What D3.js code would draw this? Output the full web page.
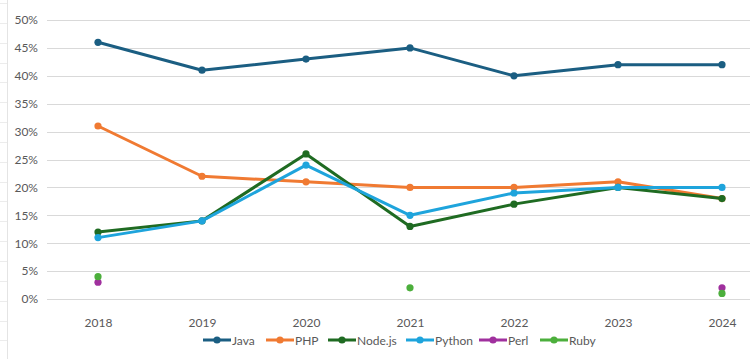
<!DOCTYPE html>
<html><head><meta charset="utf-8">
<script src="https://cdn.jsdelivr.net/npm/d3@7"></script>
<style>body{margin:0;background:#fff}svg{display:block}</style>
</head><body><svg id="c" width="750" height="359"></svg>
<script>
const years = ["2018","2019","2020","2021","2022","2023","2024"];
const seriesNames = ["Java","PHP","Node.js","Python","Perl","Ruby"];
const java   = [46,41,43,45,40,42,42];
const php    = [31,22,21,20,20,21,18];
const nodejs = [12,14,26,13,17,20,18];
const python = [11,14,24,15,19,20,20];
const perl   = [3,null,null,null,null,null,2];
const ruby   = [4,null,null,2,null,null,1];
const yTicks = [0,5,10,15,20,25,30,35,40,45,50];
const colors = ["#1b5e82","#f07a32","#1f6b22","#1ea4dc","#a0309e","#4caf3c"];

const values = [java,php,nodejs,python,perl,ruby];
const svg = d3.select("#c");
const font = "Lato, 'Open Sans', sans-serif";

// spreadsheet edge
svg.append("line").attr("x1",7.5).attr("x2",7.5).attr("y1",0).attr("y2",359).attr("stroke","#e4e4e4");
for(let y=3;y<359;y+=19.85){
  svg.append("line").attr("x1",0).attr("x2",7).attr("y1",Math.round(y)+0.5).attr("y2",Math.round(y)+0.5).attr("stroke","#ececec");
}

const x = d3.scalePoint().domain(years).range([98,722]);
const y = d3.scaleLinear().domain([0,50]).range([299,20]);

const grid = svg.append("g");
grid.selectAll("line").data(yTicks).join("line")
  .attr("x1",47).attr("x2",750)
  .attr("y1",d=>Math.round(y(d))+0.5).attr("y2",d=>Math.round(y(d))+0.5)
  .attr("stroke","#d9d9d9").attr("stroke-width",1);

const yAxis = d3.axisLeft(y).tickValues(yTicks).tickFormat(d=>d+"%").tickSize(0).tickPadding(0);
svg.append("g").attr("transform","translate(38,0)").call(yAxis)
  .call(g=>g.select(".domain").remove())
  .selectAll("text").attr("font-family",font).attr("font-size",12).attr("fill","#595959");

const xAxis = d3.axisBottom(x).tickSize(0).tickPadding(0);
svg.append("g").attr("transform","translate(0,318)").call(xAxis)
  .call(g=>g.select(".domain").remove())
  .selectAll("text").attr("font-family",font).attr("font-size",12).attr("fill","#595959");

const line = d3.line().defined(d=>d.v!=null).x(d=>x(d.year)).y(d=>y(d.v));
values.forEach((arr,i)=>{
  const pts = years.map((yr,j)=>({year:yr,v:arr[j]}));
  const g = svg.append("g");
  g.append("path").attr("d",line(pts)).attr("fill","none")
    .attr("stroke",colors[i]).attr("stroke-width",3).attr("stroke-linejoin","round").attr("stroke-linecap","round");
  g.selectAll("circle").data(pts.filter(d=>d.v!=null)).join("circle")
    .attr("cx",d=>x(d.year)).attr("cy",d=>y(d.v)).attr("r",3.6).attr("fill",colors[i]);
});

// legend
const legendX = [203,266,328,406,479,540];
const lg = svg.append("g").attr("transform","translate(0,340)");
seriesNames.forEach((n,i)=>{
  const g = lg.append("g").attr("transform",`translate(${legendX[i]},0)`);
  g.append("line").attr("x1",0).attr("x2",28).attr("stroke",colors[i]).attr("stroke-width",3);
  g.append("circle").attr("cx",14).attr("r",3.6).attr("fill",colors[i]);
  g.append("text").attr("x",29).attr("y",4.5).text(n).attr("font-family",font).attr("font-size",12).attr("fill","#595959");
});
</script></body></html>
